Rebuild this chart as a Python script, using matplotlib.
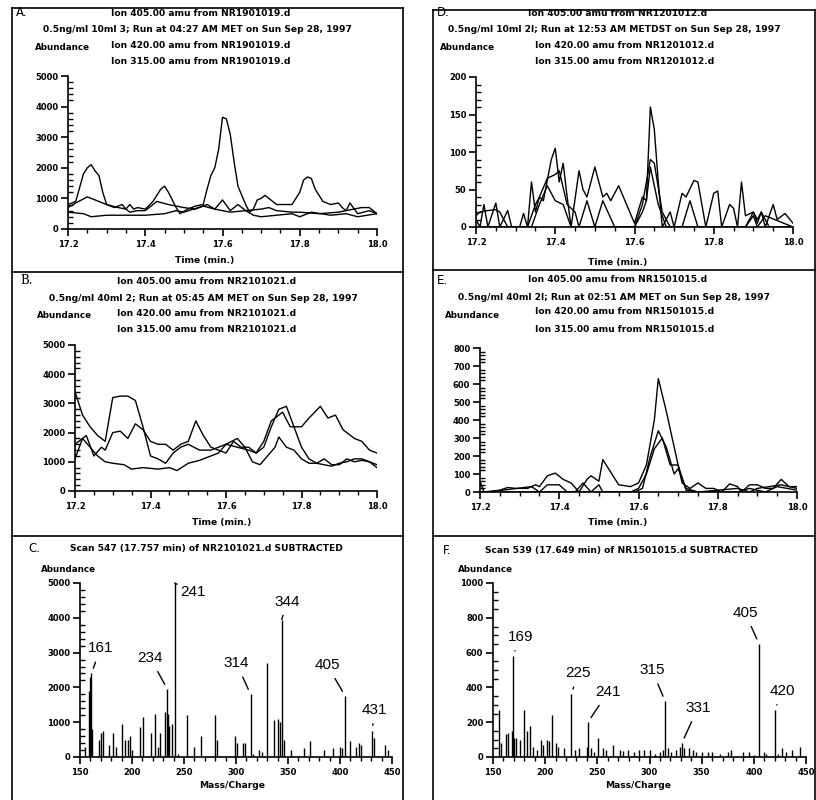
import matplotlib.pyplot as plt
from matplotlib.lines import Line2D
from matplotlib.ticker import MultipleLocator, FormatStrFormatter

# ---- A: Sep 28 1997 04:27, 10 ml ----
a_t405 = [17.20, 17.22, 17.24, 17.25, 17.26, 17.27, 17.28, 17.29, 17.30, 17.32,
          17.34, 17.35, 17.36, 17.37, 17.38, 17.40, 17.42, 17.44, 17.45, 17.46,
          17.48, 17.49, 17.51, 17.53, 17.55, 17.56, 17.57, 17.58, 17.59, 17.60,
          17.61, 17.62, 17.63, 17.64, 17.66, 17.67, 17.68, 17.69, 17.70, 17.71,
          17.72, 17.74, 17.76, 17.78, 17.80, 17.81, 17.82, 17.83, 17.84, 17.86,
          17.88, 17.90, 17.91, 17.92, 17.94, 17.96, 17.98, 18.00]
a_405 = [800, 900, 1800, 2000, 2100, 1900, 1750, 1200, 800, 700,
         800, 650, 800, 650, 700, 650, 900, 1300, 1400, 1200,
         700, 500, 650, 750, 800, 1300, 1750, 2000, 2600, 3650,
         3600, 3100, 2200, 1400, 800, 550, 650, 950, 1000, 1100,
         1000, 800, 800, 800, 1200, 1600, 1700, 1650, 1300, 900,
         800, 850, 700, 600, 650, 700, 700, 500]
a_t420 = [17.20, 17.22, 17.25, 17.28, 17.30, 17.33, 17.35, 17.36, 17.38, 17.40,
          17.43, 17.46, 17.50, 17.53, 17.56, 17.58, 17.60, 17.62, 17.64, 17.66,
          17.70, 17.72, 17.74, 17.78, 17.80, 17.85, 17.90, 17.92, 17.93, 17.95,
          17.98, 18.00]
a_420 = [700, 850, 1050, 900, 800, 700, 650, 550, 600, 600,
         900, 800, 700, 650, 800, 650, 950, 600, 800, 600,
         650, 700, 600, 550, 550, 500, 550, 600, 850, 500,
         600, 500]
a_t315 = [17.20, 17.24, 17.26, 17.30, 17.35, 17.40, 17.45, 17.48, 17.50, 17.55,
          17.58, 17.62, 17.66, 17.68, 17.70, 17.74, 17.78, 17.80, 17.83, 17.88,
          17.92, 17.95, 18.00]
a_315 = [550, 500, 400, 450, 450, 450, 500, 600, 550, 750,
         650, 550, 600, 450, 400, 450, 500, 400, 550, 450,
         500, 400, 500]

# ---- D: Sep 28 1997 12:53, 10 ml ----
d_t405 = [17.20, 17.21, 17.22, 17.23, 17.25, 17.26, 17.28, 17.29, 17.31, 17.32,
          17.33, 17.34, 17.35, 17.36, 17.37, 17.39, 17.40, 17.41, 17.42, 17.43,
          17.44, 17.46, 17.47, 17.48, 17.50, 17.52, 17.53, 17.54, 17.56, 17.58,
          17.60, 17.62, 17.63, 17.64, 17.65, 17.66, 17.67, 17.69, 17.70, 17.72,
          17.73, 17.75, 17.76, 17.78, 17.80, 17.81, 17.82, 17.84, 17.85, 17.86,
          17.87, 17.88, 17.90, 17.91, 17.92, 17.93, 17.95, 17.96, 17.98, 18.00]
d_405 = [10, 0, 30, 0, 32, 0, 22, 0, 0, 18,
         0, 60, 20, 40, 35, 90, 105, 60, 85, 40,
         0, 75, 50, 40, 80, 40, 45, 35, 55, 30,
         5, 40, 35, 160, 130, 60, 0, 20, 0, 45,
         40, 62, 60, 0, 45, 48, 0, 30, 25, 0,
         60, 15, 20, 5, 20, 0, 30, 10, 18, 5]
d_t420 = [17.20, 17.21, 17.23, 17.25, 17.26, 17.28, 17.33, 17.35, 17.36, 17.38,
          17.40, 17.41, 17.43, 17.45, 17.46, 17.48, 17.50, 17.52, 17.55, 17.60,
          17.62, 17.64, 17.65, 17.67, 17.69, 17.72, 17.74, 17.76, 17.80, 17.88,
          17.90, 17.91, 17.92, 17.94, 17.96, 18.00]
d_420 = [15, 20, 22, 23, 20, 0, 0, 30, 40, 65,
         70, 75, 30, 20, 0, 35, 0, 35, 0, 0,
         30, 90, 85, 20, 0, 0, 35, 0, 0, 0,
         20, 10, 20, 0, 0, 0]
d_t315 = [17.20, 17.34, 17.36, 17.38, 17.40, 17.42, 17.44, 17.46, 17.60, 17.62,
          17.63, 17.64, 17.66, 17.68, 17.70, 17.88, 17.90, 17.91, 17.93, 18.00]
d_315 = [0, 0, 30, 55, 35, 30, 0, 0, 0, 20,
         35, 80, 30, 0, 0, 0, 15, 0, 15, 0]

# ---- B: Sep 28 1997 05:45, 40 ml ----
b_t405 = [17.20, 17.22, 17.24, 17.26, 17.28, 17.30, 17.32, 17.34, 17.36, 17.38,
          17.40, 17.42, 17.44, 17.46, 17.48, 17.50, 17.53, 17.56, 17.60, 17.63,
          17.66, 17.68, 17.70, 17.72, 17.75, 17.77, 17.80, 17.82, 17.85, 17.87,
          17.89, 17.91, 17.94, 17.96, 17.98, 18.00]
b_405 = [3400, 2600, 2200, 1900, 1700, 3200, 3250, 3250, 3100, 2200,
         1200, 1100, 950, 1300, 1500, 1600, 1400, 1400, 1600, 1500,
         1400, 1300, 1700, 2400, 2700, 2200, 2200, 2500, 2900, 2500,
         2600, 2100, 1800, 1700, 1400, 1300]
b_t420 = [17.20, 17.23, 17.25, 17.27, 17.28, 17.30, 17.32, 17.34, 17.36, 17.38,
          17.40, 17.42, 17.44, 17.46, 17.48, 17.50, 17.52, 17.54, 17.56, 17.58,
          17.60, 17.62, 17.64, 17.66, 17.68, 17.70, 17.72, 17.74, 17.76, 17.78,
          17.80, 17.82, 17.84, 17.86, 17.88, 17.90, 17.92, 17.94, 17.96, 17.98,
          18.00]
b_420 = [1600, 1900, 1200, 1500, 1400, 2000, 2050, 1800, 2300, 2100,
         1700, 1600, 1600, 1400, 1600, 1700, 2400, 1900, 1500, 1400,
         1300, 1700, 1500, 1500, 1300, 1500, 2200, 2800, 2900, 2200,
         1500, 1100, 950, 900, 850, 950, 1000, 1100, 1100, 1000,
         800]
b_t315 = [17.20, 17.22, 17.24, 17.26, 17.28, 17.30, 17.33, 17.35, 17.38, 17.42,
          17.45, 17.47, 17.50, 17.53, 17.56, 17.58, 17.60, 17.63, 17.65, 17.67,
          17.69, 17.71, 17.73, 17.74, 17.76, 17.78, 17.80, 17.82, 17.84, 17.86,
          17.88, 17.90, 17.92, 17.94, 17.96, 17.98, 18.00]
b_315 = [1100, 1800, 1500, 1200, 1000, 950, 900, 750, 800, 750,
         800, 700, 950, 1050, 1200, 1300, 1600, 1800, 1500, 1000,
         900, 1200, 1500, 1850, 1500, 1400, 1100, 950, 950, 1100,
         900, 900, 1100, 1000, 1050, 1000, 900]

# ---- E: Sep 28 1997 02:51, 40 ml ----
e_t405 = [17.20, 17.21, 17.25, 17.27, 17.29, 17.32, 17.34, 17.35, 17.37, 17.39,
          17.41, 17.43, 17.45, 17.47, 17.48, 17.50, 17.51, 17.53, 17.55, 17.58,
          17.60, 17.62, 17.64, 17.65, 17.67, 17.69, 17.70, 17.71, 17.73, 17.75,
          17.77, 17.79, 17.81, 17.83, 17.85, 17.86, 17.88, 17.90, 17.92, 17.94,
          17.96, 17.98, 18.00]
e_405 = [60, 0, 10, 25, 20, 20, 40, 30, 90, 105,
         70, 50, 0, 70, 90, 60, 180, 110, 40, 30,
         50, 150, 400, 630, 450, 250, 150, 50, 20, 50,
         20, 20, 0, 45, 30, 0, 40, 40, 20, 20,
         70, 30, 30]
e_t420 = [17.20, 17.22, 17.33, 17.35, 17.37, 17.40, 17.42, 17.44, 17.46, 17.48,
          17.50, 17.51, 17.59, 17.61, 17.63, 17.65, 17.67, 17.69, 17.70, 17.72,
          17.75, 17.85, 17.88, 17.90, 17.96, 18.00]
e_420 = [0, 0, 30, 0, 40, 40, 0, 0, 50, 0,
         40, 0, 0, 20, 200, 340, 250, 100, 130, 20,
         0, 20, 0, 20, 40, 20]
e_t315 = [17.20, 17.58, 17.60, 17.62, 17.64, 17.66, 17.68, 17.70, 17.72, 17.75,
          17.85, 17.88, 17.92, 17.95, 18.00]
e_315 = [0, 0, 20, 100, 240, 300, 150, 150, 10, 0,
         0, 20, 0, 30, 10]

# ---- C: scan 547 spectrum ----
c_mz = [155, 159, 160, 161, 162, 168, 170, 172, 178, 182,
        185, 190, 193, 196, 198, 200, 208, 211, 218, 222,
        225, 227, 232, 234, 235, 236, 238, 241, 244, 253,
        260, 266, 280, 282, 299, 301, 307, 309, 314, 316,
        322, 325, 330, 337, 340, 342, 344, 346, 353, 365,
        371, 385, 393, 400, 402, 405, 410, 415, 418, 420,
        431, 433, 443, 446]
c_ab = [300, 1900, 2300, 2400, 800, 500, 700, 750, 350, 700,
        300, 950, 500, 500, 600, 200, 850, 1150, 700, 1250,
        300, 700, 1300, 1950, 1250, 900, 950, 5000, 100, 1200,
        300, 600, 1200, 500, 600, 400, 400, 400, 1800, 100,
        200, 150, 2700, 1050, 1100, 1000, 3950, 500, 200, 250,
        450, 200, 250, 300, 250, 1750, 450, 300, 400, 350,
        750, 550, 350, 200]
c_peaks = [161, 234, 241, 314, 344, 405, 431]

# ---- F: scan 539 spectrum ----
f_mz = [156, 158, 162, 164, 168, 169, 170, 172, 176, 180,
        183, 185, 188, 192, 196, 198, 202, 204, 207, 210,
        212, 218, 225, 229, 232, 240, 241, 244, 247, 251,
        255, 258, 265, 272, 275, 279, 285, 290, 295, 300,
        305, 310, 313, 315, 318, 321, 325, 329, 331, 333,
        338, 342, 345, 350, 356, 360, 368, 375, 378, 390,
        395, 400, 405, 410, 412, 420, 423, 427, 431, 437,
        444]
f_ab = [270, 80, 130, 140, 150, 580, 110, 110, 100, 270,
        150, 180, 60, 40, 100, 70, 100, 90, 240, 80,
        60, 50, 360, 40, 50, 60, 200, 50, 30, 110,
        50, 40, 70, 40, 35, 40, 30, 40, 40, 40,
        20, 30, 40, 320, 50, 30, 40, 60, 80, 50,
        50, 40, 30, 30, 30, 30, 20, 30, 40, 30,
        30, 10, 650, 30, 20, 270, 20, 50, 30, 40,
        60]
f_peaks = [169, 225, 241, 315, 331, 405, 420]

# label offsets (pixels) from each labelled peak top
c_offsets = [(9, 25), (-17, 31), (18, -9), (-14, 31), (5, 18), (-18, 31), (2, 21)]
f_offsets = [(8, 19), (7, 21), (20, 30), (-13, 31), (16, 35), (-14, 31), (8, 19)]

W, H = 816, 800
plt.rcParams['font.family'] = 'DejaVu Sans'
plt.rcParams['font.weight'] = 'bold'
fig = plt.figure(figsize=(W / 100, H / 100), dpi=100)
fig.patch.set_facecolor('white')


def rect(x0, y_top, x1, y_bot):
    return [x0 / W, 1 - y_bot / H, (x1 - x0) / W, (y_bot - y_top) / H]


def ftext(x, y, s, ha='left', size=6.6, **kw):
    fig.text(x / W, 1 - y / H, s, ha=ha, va='center', size=size, **kw)


def hline(x0, x1, y, lw=1.2):
    fig.add_artist(Line2D([x0 / W, x1 / W], [1 - y / H, 1 - y / H],
                          color='k', lw=lw, transform=fig.transFigure))


def vline(x, y0, y1, lw=1.2):
    fig.add_artist(Line2D([x / W, x / W], [1 - y0 / H, 1 - y1 / H],
                          color='k', lw=lw, transform=fig.transFigure))


def setup(ax, xlim, ylim, xmaj, xmin, ymaj, ymin, xfmt):
    ax.set_xlim(*xlim)
    ax.set_ylim(*ylim)
    ax.spines['top'].set_visible(False)
    ax.spines['right'].set_visible(False)
    for s in ('left', 'bottom'):
        ax.spines[s].set_linewidth(1.2)
    ax.xaxis.set_major_locator(MultipleLocator(xmaj))
    ax.xaxis.set_minor_locator(MultipleLocator(xmin))
    ax.yaxis.set_major_locator(MultipleLocator(ymaj))
    ax.yaxis.set_minor_locator(MultipleLocator(ymin))
    ax.xaxis.set_major_formatter(FormatStrFormatter(xfmt))
    ax.tick_params(axis='x', which='major', direction='out', length=5, width=1.2, pad=3)
    ax.tick_params(axis='x', which='minor', direction='out', length=3, width=1.0)
    ax.tick_params(axis='y', which='major', direction='out', length=5, width=1.2, pad=2)
    ax.tick_params(axis='y', which='minor', direction='in', length=3.5, width=1.0)
    ax.tick_params(labelsize=6)
    ax.patch.set_alpha(0)


def chromatogram(pos, top, ymaj, ymin, traces):
    ax = fig.add_axes(rect(*pos))
    for t, v in traces:
        ax.plot(t, v, color='k', lw=1.0)
    setup(ax, (17.2, 18.0), (0, top), 0.2, 0.05, ymaj, ymin, '%.1f')
    return ax


def spectrum(pos, top, ymaj, ymin, mz, ab, peaks, offsets):
    ax = fig.add_axes(rect(*pos))
    ax.vlines(mz, 0, ab, color='k', lw=1.0)
    setup(ax, (150, 450), (0, top), 50, 10, ymaj, ymin, '%d')
    for m, (dx, dy) in zip(peaks, offsets):
        h = ab[mz.index(m)]
        ax.annotate(str(m), xy=(m, h), xytext=(dx, dy), textcoords='offset pixels',
                    ha='center', va='center', fontsize=11, fontweight='normal',
                    family='Liberation Sans',
                    arrowprops=dict(arrowstyle='-', lw=1.0, color='k',
                                    shrinkA=3, shrinkB=4))
    return ax


def header(x_lab, y0, letter, file_name, run_line, x_mid, x_ions, x_abund,
           letter_family='DejaVu Sans'):
    ftext(x_lab, y0, letter, size=8.5, family=letter_family, weight='normal')
    ftext(x_mid, y0, f'Ion 405.00 amu from {file_name}', ha='center')
    ftext(x_mid - 4, y0 + 17, run_line, ha='center')
    ftext(x_abund, y0 + 35, 'Abundance', ha='center', size=6.3)
    ftext(x_ions, y0 + 32, f'Ion 420.00 amu from {file_name}')
    ftext(x_ions, y0 + 49, f'Ion 315.00 amu from {file_name}')


# panel frames
vline(12, 8, 800)
vline(403, 8, 800)
hline(12, 403, 8)
hline(12, 403, 272)
hline(12, 403, 536)
vline(433, 10, 800)
vline(815, 10, 800)
hline(433, 815, 10)
hline(433, 815, 270)
hline(433, 815, 536)

# A
header(16, 13, 'A.', 'NR1901019.d',
       '0.5ng/ml 10ml 3; Run at 04:27 AM MET on Sun Sep 28, 1997', 201, 111, 62)
chromatogram((68, 76, 377, 229), 5000, 1000, 200,
             [(a_t405, a_405), (a_t420, a_420), (a_t315, a_315)])
ftext(205, 261, 'Time (min.)', ha='center')

# D
header(437, 13, 'D.', 'NR1201012.d',
       '0.5ng/ml 10ml 2l; Run at 12:53 AM METDST on Sun Sep 28, 1997', 618, 535, 467)
chromatogram((476, 77, 793, 227), 200, 50, 10,
             [(d_t405, d_405), (d_t420, d_420), (d_t315, d_315)])
ftext(618, 262, 'Time (min.)', ha='center')

# B
header(20, 281, 'B.', 'NR2101021.d',
       '0.5ng/ml 40ml 2; Run at 05:45 AM MET on Sun Sep 28, 1997', 207, 117, 64,
       letter_family='DejaVu Serif')
chromatogram((75, 345, 377, 491), 5000, 1000, 200,
             [(b_t405, b_405), (b_t420, b_420), (b_t315, b_315)])
ftext(222, 523, 'Time (min.)', ha='center')

# E
header(437, 280, 'E.', 'NR1501015.d',
       '0.5ng/ml 40ml 2l; Run at 02:51 AM MET on Sun Sep 28, 1997', 618, 535, 472)
chromatogram((480, 348, 797, 492), 800, 100, 20,
             [(e_t405, e_405), (e_t420, e_420), (e_t315, e_315)])
ftext(618, 523, 'Time (min.)', ha='center')

# C
ftext(28, 548, 'C.', size=8.5, weight='normal')
ftext(70, 548, 'Scan 547 (17.757 min) of NR2101021.d SUBTRACTED')
ftext(68, 569, 'Abundance', ha='center', size=6.3)
spectrum((80, 583, 392, 757), 5000, 1000, 200, c_mz, c_ab, c_peaks, c_offsets)
ftext(232, 786, 'Mass/Charge', ha='center')

# F
ftext(443, 551, 'F.', size=8.5, weight='normal')
ftext(485, 551, 'Scan 539 (17.649 min) of NR1501015.d SUBTRACTED')
ftext(485, 569, 'Abundance', ha='center', size=6.3)
spectrum((493, 583, 806, 757), 1000, 200, 50, f_mz, f_ab, f_peaks, f_offsets)
ftext(638, 786, 'Mass/Charge', ha='center')

fig.savefig('out.png', dpi=100)
